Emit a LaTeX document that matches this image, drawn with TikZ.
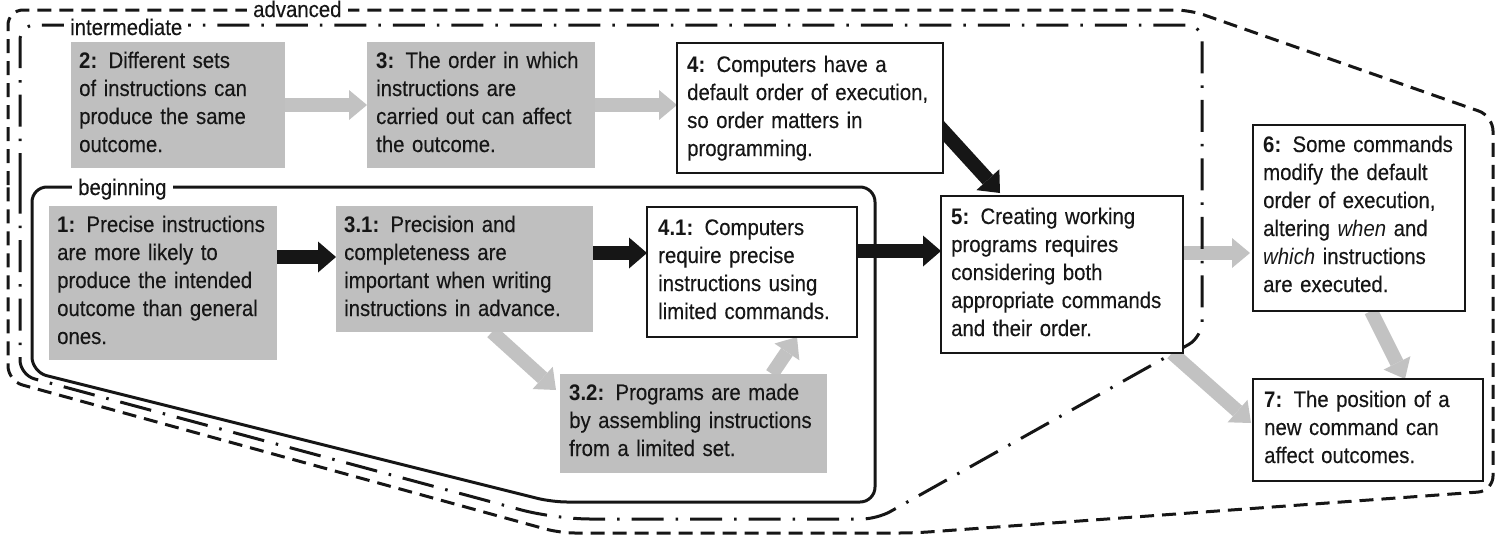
\documentclass[tikz,border=0pt]{standalone}
\usepackage{fontspec}
\setmainfont{Liberation Sans}[FakeStretch=0.905, UprightFeatures={FakeBold=0.25}]
\usetikzlibrary{arrows.meta,calc}
\definecolor{boxgray}{HTML}{BFBFBF}
\definecolor{arrgray}{HTML}{C2C2C2}
\definecolor{ink}{HTML}{161616}
\begin{document}
\begin{tikzpicture}[x=1pt,y=-1pt,
  gbox/.style={fill=boxgray, draw=none, anchor=north west, inner sep=0pt, outer sep=0pt},
  wbox/.style={fill=white, draw=ink, line width=2.6pt, anchor=north west, inner sep=0pt, outer sep=0pt},
  txt/.style={anchor=base west, inner sep=0pt, text width=320pt, align=left, font=\fontsize{22.5}{28}\selectfont, text=ink},
  lbl/.style={anchor=base west, inner xsep=6pt, inner ysep=1pt, fill=white, font=\fontsize{22.5}{28}\selectfont, text=ink},
  arrG/.style={draw=arrgray, line width=14pt, -{Triangle[width=30pt,length=18pt,line width=0pt]}},
  arrB/.style={draw=ink, line width=14pt, -{Triangle[width=31pt,length=18pt,line width=0pt]}},
  rline/.style={draw=ink, line width=3pt, rounded corners=15pt},
  advline/.style={rline, dash pattern=on 14pt off 8pt},
  interline/.style={rline, dash pattern=on 32pt off 12pt on 2.5pt off 12pt}]
\useasboundingbox (0,0) rectangle (1499,544);

\pgfdeclarelayer{bg}
\pgfsetlayers{bg,main}

% boxes
\node[gbox, minimum width=214pt, minimum height=126pt] (b2) at (71,42) {};
\node[gbox, minimum width=228pt, minimum height=126pt] (b3) at (367,42) {};
\node[wbox, minimum width=266pt, minimum height=130pt] (b4) at (677,43) {};
\node[gbox, minimum width=228pt, minimum height=154pt] (b1) at (49,206) {};
\node[gbox, minimum width=257pt, minimum height=126pt] (b31) at (336,206) {};
\node[wbox, minimum width=210pt, minimum height=130pt] (b41) at (647,207) {};
\node[gbox, minimum width=267pt, minimum height=99pt] (b32) at (560,374) {};
\node[wbox, minimum width=242pt, minimum height=157pt] (b5) at (941,196) {};
\node[wbox, minimum width=212pt, minimum height=186pt] (b6) at (1253,125) {};
\node[wbox, minimum width=230pt, minimum height=102pt] (b7) at (1253,379) {};

\begin{pgfonlayer}{bg}
% connectors
\draw[arrG] (b2.east) -- (b3.west);
\draw[arrG] (b3.east) -- (b3.east -| b4.west);
\draw[arrB] ($(b4.south east)+(-5,-48)$) -- ($(b5.north west)+(59,-3)$);
\draw[arrB] ($(b1.east)+(0,-26)$) coordinate (s1) -- (s1 -| b31.west);
\draw[arrB] ($(b31.east)+(0,-16)$) coordinate (s2) -- (s2 -| b41.west);
\draw[arrB] ($(b41.east)+(0,-21)$) coordinate (s3) -- (s3 -| b5.west);
\draw[arrG] ($(b31.south west)+(156,0)$) -- ($(b32.north west)+(-4,16)$);
\draw[arrG] ($(b32.north west)+(212,0)$) -- ($(b41.south east)+(-60,0)$);
\draw[arrG] ($(b5.east)+(0,-21.5)$) coordinate (s4) -- ($(s4 -| b6.west)+(-3,0)$);
\draw[arrG] ($(b5.south east)+(-11,0)$) -- ($(b7.north west)+(-2,44)$);
\draw[arrG] ($(b6.south west)+(118,0)$) -- ($(b7.north west)+(152,0)$);

% regions
\draw[advline] (8,200) -- (8,10) -- (1190,10) -- (1493,116) -- (1493,491) -- (914,533) -- (560,533) -- (8,381) -- cycle;
\draw[interline] (20,200) -- (20,25) -- (1202,25) -- (1202,337) -- (877,519) [rounded corners=35pt] -- (555,519) [rounded corners=15pt] -- (20,375) -- cycle;
\draw[rline] (32,250) -- (32,187) -- (875,187) -- (875,502) -- (552,502) -- (32,372) -- cycle;
\node[lbl] (ladv) at (247,17) {advanced};
\node[lbl] (lint) at (64,35) {intermediate};
\node[lbl] (lbeg) at (72,195) {beginning};
\end{pgfonlayer}

% texts
\node[txt] (t2) at (79,68) {\textbf{2:} Different sets\\of instructions can\\produce the same\\outcome.};
\node[txt] (t3) at (376,68) {\textbf{3:} The order in which\\instructions are\\carried out can affect\\the outcome.};
\node[txt] (t4) at (687,72) {\textbf{4:} Computers have a\\default order of execution,\\so order matters in\\programming.};
\node[txt] (t1) at (57,232) {\textbf{1:} Precise instructions\\are more likely to\\produce the intended\\outcome than general\\ones.};
\node[txt] (t31) at (344,232) {\textbf{3.1:} Precision and\\completeness are\\important when writing\\instructions in advance.};
\node[txt] (t41) at (658,235) {\textbf{4.1:} Computers\\require precise\\instructions using\\limited commands.};
\node[txt] (t32) at (569,400) {\textbf{3.2:} Programs are made\\by assembling instructions\\from a limited set.};
\node[txt] (t5) at (951,224) {\textbf{5:} Creating working\\programs requires\\considering both\\appropriate commands\\and their order.};
\node[txt] (t6) at (1263,152) {\textbf{6:} Some commands\\modify the default\\order of execution,\\altering \textit{when} and\\\textit{which} instructions\\are executed.};
\node[txt] (t7) at (1264,407) {\textbf{7:} The position of a\\new command can\\affect outcomes.};
\end{tikzpicture}
\end{document}
